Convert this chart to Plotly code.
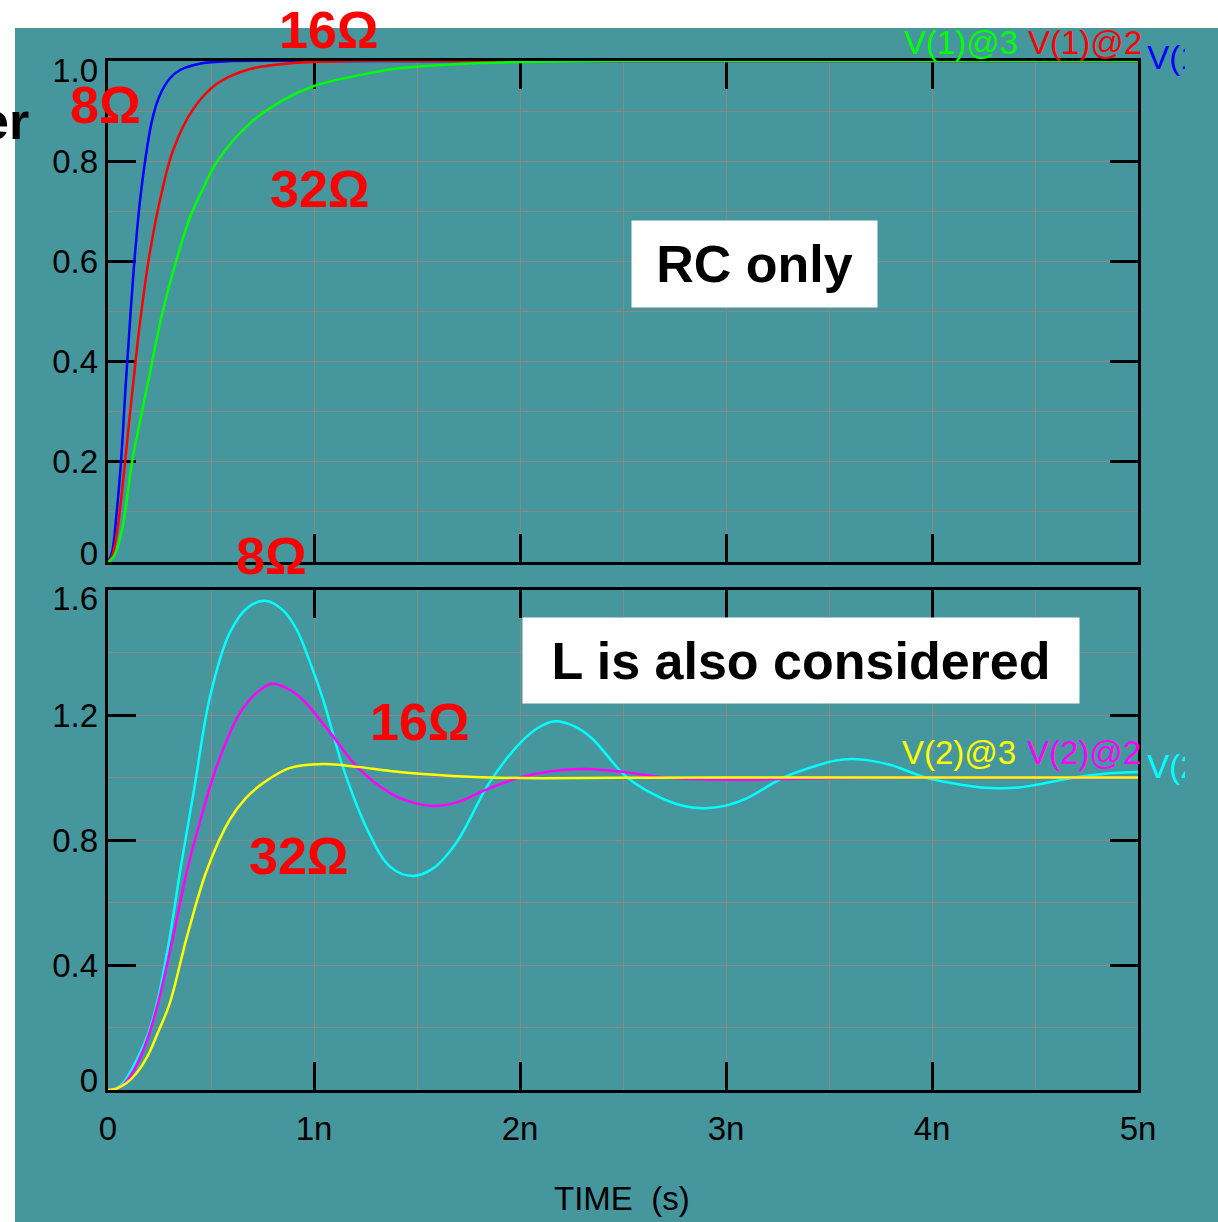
import plotly.graph_objects as go

W, H = 1218, 1222

# ---------------- data (time in ns, voltage in V) ----------------
# Top panel: RC only
t_rc_8 = [0, 0.02, 0.04, 0.063, 0.087, 0.11, 0.13, 0.155, 0.18, 0.213, 0.25, 0.3, 0.35, 0.45, 0.6, 1.0, 5.0]
v_rc_8 = [0, 0.02, 0.09, 0.2, 0.36, 0.5, 0.61, 0.72, 0.8, 0.88, 0.93, 0.965, 0.982, 0.995, 1.0, 1.0, 1.0]

t_rc_16 = [0, 0.02, 0.044, 0.078, 0.1, 0.126, 0.15, 0.2, 0.262, 0.316, 0.41, 0.53, 0.69, 0.9, 1.2, 1.6, 5.0]
v_rc_16 = [0, 0.012, 0.06, 0.18, 0.27, 0.37, 0.46, 0.61, 0.74, 0.822, 0.902, 0.955, 0.984, 0.996, 1.0, 1.0, 1.0]

t_rc_32 = [0, 0.03, 0.068, 0.117, 0.16, 0.2, 0.26, 0.33, 0.4, 0.455, 0.53, 0.69, 0.85, 1.0, 1.26, 1.42, 1.7, 2.0, 2.5, 3.0, 5.0]
v_rc_32 = [0, 0.012, 0.064, 0.2, 0.29, 0.37, 0.49, 0.6, 0.69, 0.74, 0.8, 0.876, 0.922, 0.95, 0.975, 0.986, 0.994, 0.998, 1.0, 1.0, 1.0]

# Bottom panel: RLC
t_rlc_8 = [0, 0.04, 0.073, 0.11, 0.155, 0.2, 0.238, 0.3, 0.35, 0.42, 0.495, 0.59, 0.68, 0.767, 0.85, 0.917,
           0.98, 1.045, 1.14, 1.26, 1.37, 1.48, 1.58, 1.69, 1.85, 2.0, 2.09, 2.17, 2.26, 2.35, 2.52, 2.7, 2.8,
           2.9, 3.0, 3.1, 3.28, 3.45, 3.53, 3.61, 3.7, 3.8, 3.97, 4.15, 4.24, 4.33, 4.42, 4.5, 4.69, 4.85, 5.0]
v_rlc_8 = [0, 0.005, 0.022, 0.06, 0.118, 0.19, 0.278, 0.49, 0.70, 0.97, 1.258, 1.462, 1.545, 1.565, 1.535, 1.472,
           1.37, 1.248, 1.034, 0.832, 0.714, 0.685, 0.71, 0.79, 0.982, 1.11, 1.16, 1.18, 1.165, 1.125, 1.0, 0.93, 0.908,
           0.902, 0.91, 0.933, 1.0, 1.04, 1.054, 1.059, 1.054, 1.04, 1.0, 0.976, 0.968, 0.966, 0.968, 0.976, 1.0, 1.013, 1.018]

t_rlc_16 = [0, 0.04, 0.073, 0.123, 0.165, 0.2, 0.243, 0.316, 0.383, 0.447, 0.53, 0.64, 0.72, 0.795, 0.87, 0.947,
            1.08, 1.21, 1.37, 1.47, 1.58, 1.68, 1.75, 1.85, 2.0, 2.15, 2.32, 2.5, 2.7, 2.9, 3.1, 3.4, 3.8, 4.3, 5.0]
v_rlc_16 = [0, 0.004, 0.016, 0.06, 0.118, 0.18, 0.278, 0.49, 0.70, 0.86, 1.04, 1.206, 1.27, 1.30, 1.285, 1.248,
            1.142, 1.034, 0.95, 0.922, 0.909, 0.918, 0.935, 0.965, 1.0, 1.02, 1.027, 1.018, 1.0, 0.994, 0.993, 0.997, 1.0, 1.0, 1.0]

t_rlc_32 = [0, 0.04, 0.09, 0.14, 0.19, 0.24, 0.30, 0.383, 0.48, 0.59, 0.67, 0.753, 0.88, 1.045, 1.21, 1.37,
            1.53, 1.7, 1.85, 2.1, 2.5, 3.0, 4.0, 5.0]
v_rlc_32 = [0, 0.004, 0.022, 0.055, 0.106, 0.18, 0.278, 0.49, 0.704, 0.864, 0.935, 0.982, 1.03, 1.043, 1.034, 1.021,
            1.011, 1.004, 1.0, 0.998, 0.999, 1.0, 1.0, 1.0]

x_tickvals = [0, 1, 2, 3, 4, 5]
x_ticktext = ["0", "1n", "2n", "3n", "4n", "5n"]
top_tickvals = [0, 0.2, 0.4, 0.6, 0.8, 1.0]
top_ticktext = ["0", "0.2", "0.4", "0.6", "0.8", "1.0"]
bot_tickvals = [0, 0.4, 0.8, 1.2, 1.6]
bot_ticktext = ["0", "0.4", "0.8", "1.2", "1.6"]

# ---------------- style ----------------
TEAL = "#46969E"
GRID = "#8C8888"
FONT = "Liberation Sans, Arial, sans-serif"
TICKFONT = dict(family=FONT, size=33, color="black")
LW = 2.5
SM = 1.0


def px(x):
    return x / W


def py(y):
    return 1 - y / H


X0, X1 = 108, 1138
TOP0, TOP1 = 61, 562
BOT0, BOT1 = 590, 1090

fig = go.Figure()


def line(t, v, color, xa, ya):
    fig.add_trace(go.Scatter(x=t, y=v, mode="lines", xaxis=xa, yaxis=ya,
                             line=dict(color=color, width=LW, shape="spline", smoothing=SM)))


line(t_rc_8, v_rc_8, "#0000FF", "x", "y")
line(t_rc_16, v_rc_16, "#FF0000", "x", "y")
line(t_rc_32, v_rc_32, "#00FF00", "x", "y")
line(t_rlc_8, v_rlc_8, "#00FFFF", "x2", "y2")
line(t_rlc_16, v_rlc_16, "#FF00FF", "x2", "y2")
line(t_rlc_32, v_rlc_32, "#FFFF00", "x2", "y2")

# trace names clipped at the right edge (trace text, so the cover shape can clip them)
fig.add_trace(go.Scatter(x=[5.0], y=[1.0], mode="text", text=["\u00a0V(1)@1"], textposition="middle right",
                         textfont=dict(family=FONT, size=33, color="#0000FF"), cliponaxis=False,
                         xaxis="x", yaxis="y", hoverinfo="skip"))
fig.add_trace(go.Scatter(x=[5.0], y=[1.024], mode="text", text=["\u00a0V(2)@1"], textposition="middle right",
                         textfont=dict(family=FONT, size=33, color="#00FFFF"), cliponaxis=False,
                         xaxis="x2", yaxis="y2", hoverinfo="skip"))

# dummy traces for label-only overlay axes
fig.add_trace(go.Scatter(x=[None], y=[None], xaxis="x", yaxis="y3", hoverinfo="skip"))
fig.add_trace(go.Scatter(x=[None], y=[None], xaxis="x2", yaxis="y4", hoverinfo="skip"))

xdom = [px(X0), px(X1)]
top_dom = [py(TOP1), py(TOP0)]
bot_dom = [py(BOT1), py(BOT0)]

common_axis = dict(showline=True, linecolor="black", linewidth=3, mirror="ticks",
                   ticks="inside", ticklen=28, tickwidth=3, tickcolor="black",
                   showgrid=True, gridcolor=GRID, gridwidth=1, zeroline=False,
                   layer="below traces", tickfont=TICKFONT, fixedrange=True, automargin=False)

fig.update_layout(
    width=W, height=H,
    margin=dict(l=0, r=0, t=0, b=0, pad=0, autoexpand=False),
    paper_bgcolor="white",
    plot_bgcolor="rgba(0,0,0,0)",
    showlegend=False,
    xaxis=dict(domain=xdom, anchor="y", range=[0, 5], tickmode="array", tickvals=x_tickvals,
               ticktext=x_ticktext, showticklabels=False,
               minor=dict(tickvals=[0.5, 1.5, 2.5, 3.5, 4.5], showgrid=True, gridcolor=GRID, gridwidth=1, ticks=""),
               **common_axis),
    yaxis=dict(domain=top_dom, anchor="x", range=[0, 1.0], tickmode="array", tickvals=top_tickvals,
               showticklabels=False,
               minor=dict(tickvals=[0.1, 0.3, 0.5, 0.7, 0.9], showgrid=True, gridcolor=GRID, gridwidth=1, ticks=""),
               **common_axis),
    xaxis2=dict(domain=xdom, anchor="y2", range=[0, 5], tickmode="array", tickvals=x_tickvals,
                ticktext=x_ticktext, showticklabels=True, ticklabelstandoff=7,
                minor=dict(tickvals=[0.5, 1.5, 2.5, 3.5, 4.5], showgrid=True, gridcolor=GRID, gridwidth=1, ticks=""),
                **common_axis),
    yaxis2=dict(domain=bot_dom, anchor="x2", range=[0, 1.6], tickmode="array", tickvals=bot_tickvals,
                showticklabels=False,
                minor=dict(tickvals=[0.2, 0.6, 1.0, 1.4], showgrid=True, gridcolor=GRID, gridwidth=1, ticks=""),
                **common_axis),
    yaxis3=dict(overlaying="y", anchor="x", side="left", range=[0, 1.0], tickmode="array",
                tickvals=[0.018, 0.2, 0.4, 0.6, 0.8, 0.982], ticktext=top_ticktext,
                showgrid=False, zeroline=False, showline=False, ticks="", tickfont=TICKFONT, fixedrange=True,
                ticklabelstandoff=9, automargin=False),
    yaxis4=dict(overlaying="y2", anchor="x2", side="left", range=[0, 1.6], tickmode="array",
                tickvals=[0.03, 0.4, 0.8, 1.2, 1.574], ticktext=bot_ticktext,
                showgrid=False, zeroline=False, showline=False, ticks="", tickfont=TICKFONT, fixedrange=True,
                ticklabelstandoff=9, automargin=False),
)

# background panel and right-edge clip cover
fig.add_shape(type="rect", xref="paper", yref="paper", x0=px(15), x1=1, y0=0, y1=py(28),
              fillcolor=TEAL, line=dict(width=0), layer="below")
fig.add_shape(type="rect", xref="paper", yref="paper", x0=px(1185), x1=1, y0=0, y1=py(28),
              fillcolor=TEAL, line=dict(width=0), layer="above")

RED = "#FF0000"
BIG = dict(family=FONT, size=52, color=RED, weight="bold")


def ann(text, x, y, font, xanchor="center", yanchor="middle", **kw):
    fig.add_annotation(text=text, x=px(x), y=py(y), xref="paper", yref="paper", showarrow=False,
                       xanchor=xanchor, yanchor=yanchor, font=font, **kw)


# resistor labels
ann("16Ω", 329, 30, BIG)
ann("8Ω", 105, 105, BIG)
ann("32Ω", 320, 189, BIG)
ann("8Ω", 271, 556, BIG)
ann("16Ω", 420, 722, BIG)
ann("32Ω", 299, 856, BIG)

# boxed titles
ann("RC only", 754.5, 264, dict(family=FONT, size=52, color="black", weight="bold"),
    bgcolor="white", width=245, height=86, borderpad=0)
ann("L is also considered", 801, 660.5, dict(family=FONT, size=52, color="black", weight="bold"),
    bgcolor="white", width=556, height=85, borderpad=0)

# trace names
SMALL = lambda c: dict(family=FONT, size=33, color=c)
ann("V(1)@3", 902, 42, SMALL("#00FF00"), xanchor="left")
ann("V(1)@2", 1026, 42, SMALL("#FF0000"), xanchor="left")
ann("V(2)@3", 900, 752, SMALL("#FFFF00"), xanchor="left")
ann("V(2)@2", 1025, 752, SMALL("#FF00FF"), xanchor="left")

# axis title and clipped y-title fragment
ann("TIME\u00a0\u00a0(s)", 622, 1198, dict(family=FONT, size=33, color="black"))
ann("er", 31, 121, dict(family=FONT, size=52, color="black", weight="bold"), xanchor="right")

fig.write_html("out.html", config={"displayModeBar": False},
               post_script="document.body.style.margin='0';document.body.style.overflow='hidden';")
